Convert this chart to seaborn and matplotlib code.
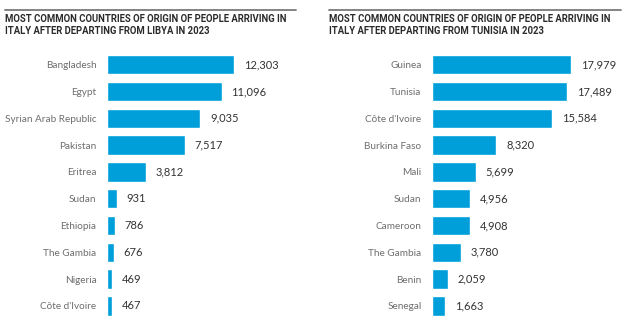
import matplotlib
matplotlib.use("Agg")
import matplotlib.pyplot as plt
import seaborn as sns
import pandas as pd
from matplotlib.lines import Line2D

libya_countries = ["Bangladesh", "Egypt", "Syrian Arab Republic", "Pakistan", "Eritrea",
                   "Sudan", "Ethiopia", "The Gambia", "Nigeria", "Côte d'Ivoire"]
libya_values = [12303, 11096, 9035, 7517, 3812, 931, 786, 676, 469, 467]
tunisia_countries = ["Guinea", "Tunisia", "Côte d'Ivoire", "Burkina Faso", "Mali",
                     "Sudan", "Cameroon", "The Gambia", "Benin", "Senegal"]
tunisia_values = [17979, 17489, 15584, 8320, 5699, 4956, 4908, 3780, 2059, 1663]
titles = ["MOST COMMON COUNTRIES OF ORIGIN OF PEOPLE ARRIVING IN\nITALY AFTER DEPARTING FROM LIBYA IN 2023",
          "MOST COMMON COUNTRIES OF ORIGIN OF PEOPLE ARRIVING IN\nITALY AFTER DEPARTING FROM TUNISIA IN 2023"]

sns.set_style("white")
plt.rcParams['font.family'] = ['Lato', 'DejaVu Sans']

W, H = 624, 322
fig = plt.figure(figsize=(W / 100, H / 100), dpi=100)

BAR_COLOR = "#009fda"
panels = [
    dict(countries=libya_countries, values=libya_values, ax_left=107, ax_right=296,
         xmax=18314, rule=(5, 296), title_x=5),
    dict(countries=tunisia_countries, values=tunisia_values, ax_left=432, ax_right=621,
         xmax=24450, rule=(329, 621), title_x=329),
]

top_px, bot_px = 51.3, 319.3
for p, title in zip(panels, titles):
    ax = fig.add_axes([p["ax_left"] / W, (H - bot_px) / H,
                       (p["ax_right"] - p["ax_left"]) / W, (bot_px - top_px) / H])
    df = pd.DataFrame({"country": p["countries"], "value": p["values"]})
    sns.barplot(data=df, x="value", y="country", orient="h", color=BAR_COLOR,
                saturation=1, width=0.72, ax=ax)
    ax.set_xlim(0, p["xmax"])
    ax.set_ylim(9.5, -0.5)
    for s in ax.spines.values():
        s.set_visible(False)
    ax.set_xticks([])
    ax.set_xlabel("")
    ax.set_ylabel("")
    ax.tick_params(axis="y", length=0, pad=7.5, labelsize=7.2, labelcolor="#6e6e6e")
    for c in ax.containers:
        ax.bar_label(c, labels=[f"{v:,}" for v in p["values"]], padding=7,
                     fontsize=8, color="#333333")
    # rule and title
    fig.add_artist(Line2D([p["rule"][0] / W, p["rule"][1] / W], [(H - 10) / H] * 2,
                          color="#7a7a7a", lw=1.3, transform=fig.transFigure))
    fig.text(p["title_x"] / W, (H - 14) / H, title, ha="left", va="top",
             fontsize=6.85, fontweight="bold", color="#2b2b2b", linespacing=1.3,
             family=["Roboto", "DejaVu Sans"])

fig.savefig("out.png", dpi=100, facecolor="white")
